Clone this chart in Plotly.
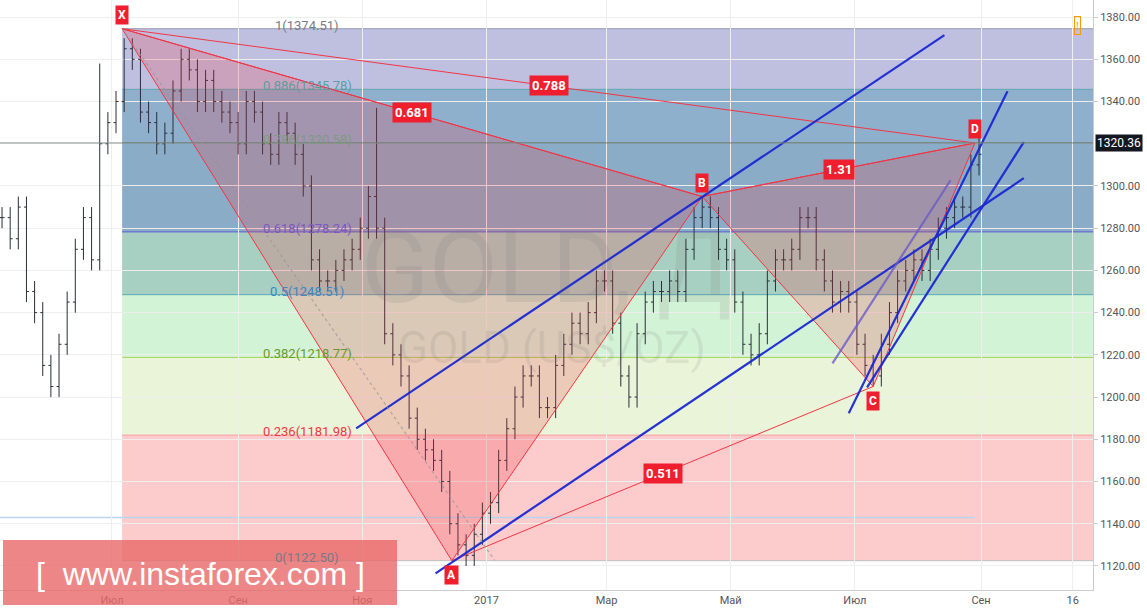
import plotly.graph_objects as go
import pandas as pd

closes = [1285,1275,1290,1250,1240,1215,1205,1225,1245,1270,1285,1265,1320,1330,1340,1365,1360,1335,1330,1320,
          1325,1345,1360,1355,1340,1350,1340,1335,1330,1320,1340,1335,1320,1315,1330,1325,1315,1300,1265,1255,
          1255,1260,1265,1270,1280,1295,1280,1230,1220,1210,1190,1180,1175,1170,1160,1140,1130,1125,1135,1145,
          1150,1170,1185,1200,1210,1210,1195,1195,1215,1225,1235,1230,1240,1255,1255,1235,1210,1200,1230,1245,
          1250,1250,1255,1250,1270,1285,1290,1285,1270,1265,1245,1225,1220,1230,1255,1265,1265,1270,1285,1285,
          1265,1255,1245,1250,1245,1225,1215,1210,1225,1240,1255,1260,1265,1260,1270,1280,1285,1290,1290,1310,1315]
dates = pd.date_range("2016-05-08", periods=len(closes), freq="4D")
opens = [closes[0]] + closes[:-1]
spikes = {46: 1337, 12: 1358, 120: 1325}
highs = [max(o, c) + 5 for o, c in zip(opens, closes)]
lows = [min(o, c) - 5 for o, c in zip(opens, closes)]
for k, v in spikes.items():
    highs[k] = v

fib_ratios = ["1", "0.886", "0.786", "0.618", "0.5", "0.382", "0.236", "0"]
fib_levels = [1374.51, 1345.78, 1320.58, 1278.24, 1248.51, 1218.77, 1181.98, 1122.50]
fib_text_colors = ["#787b86", "#5a9ea0", "#7f9a84", "#7e57c2", "#3d86c6", "#6a9a2a", "#f23645", "#787b86"]
fib_line_colors = ["#9a9bb5", "#5fa7b0", "#6f8f7f", "#5b5fd6", "#5aa7b5", "#a6d65a", "#f7a0a0", "#c0c0c0"]
band_colors = ["#bfc0e0", "#8eb0cd", "#8aacc6", "#a8d0c2", "#d2f3d6", "#eaf4d8", "#fccbcb"]

pts_names = ["X", "A", "B", "C", "D"]
pts_dates = ["2016-07-06", "2016-12-15", "2017-04-17", "2017-07-10", "2017-08-29"]
pts_prices = [1374.51, 1122.50, 1295.0, 1205.0, 1320.36]
ratios = [("X", "B", "0.681"), ("X", "D", "0.788"), ("B", "D", "1.31"), ("A", "C", "0.511")]

trend_lines = [
    (["2016-12-07", "2017-09-22"], [1116.5, 1303.7], "rgba(25,40,210,0.95)"),
    (["2016-10-29", "2017-08-14"], [1185.2, 1371.5], "rgba(25,40,210,0.95)"),
    (["2017-06-28", "2017-09-14"], [1192.3, 1344.9], "rgba(25,40,210,0.95)"),
    (["2017-07-07", "2017-09-22"], [1204.6, 1320.8], "rgba(25,40,210,0.95)"),
    (["2017-06-20", "2017-08-17"], [1216.0, 1302.7], "rgba(110,90,200,0.8)"),
]

x_start, x_end = "2016-05-07", "2017-10-26"
tick_vals = ["2016-07-01", "2016-09-01", "2016-11-01", "2017-01-01", "2017-03-01", "2017-05-01", "2017-07-01", "2017-09-01", "2017-10-16"]
tick_text = ["Июл", "Сен", "Ноя", "2017", "Мар", "Май", "Июл", "Сен", "16"]
y_ticks = [1120, 1140, 1160, 1180, 1200, 1220, 1240, 1260, 1280, 1300, 1340, 1360, 1380]
last_price = 1320.36

P = {n: (pd.Timestamp(d), p) for n, d, p in zip(pts_names, pts_dates, pts_prices)}

fig = go.Figure()
shapes = []
for i in range(len(band_colors)):
    shapes.append(dict(type="rect", xref="x", yref="y", x0=pts_dates[0], x1=x_end,
                       y0=fib_levels[i + 1], y1=fib_levels[i], fillcolor=band_colors[i],
                       line_width=0, layer="below"))
for lv, lc in zip(fib_levels, fib_line_colors):
    shapes.append(dict(type="line", xref="x", yref="y", x0=pts_dates[0], x1=x_end, y0=lv, y1=lv,
                       line=dict(color=lc, width=1), layer="below"))
shapes.append(dict(type="line", xref="x", yref="y", x0=x_start, x1=pts_dates[4], y0=1143, y1=1143,
                   line=dict(color="#b8d4ee", width=1.5), layer="below"))
shapes.append(dict(type="line", xref="paper", yref="y", x0=0, x1=1, y0=last_price, y1=last_price,
                   line=dict(color="#7d8a8a", width=1)))
shapes.append(dict(type="rect", xref="paper", yref="paper", x0=3/1093, x1=397/1093,
                   y0=1 - 605/590, y1=1 - 540/590, fillcolor="rgba(232,105,105,0.8)", line_width=0))
shapes.append(dict(type="line", xref="x", yref="y", x0=pts_dates[0], x1="2017-01-05", y0=1374.51, y1=1122.7,
                   line=dict(color="rgba(150,150,150,0.7)", width=1.2, dash="dot")))

fig.add_trace(go.Ohlc(x=dates, open=opens, high=highs, low=lows, close=closes,
                      increasing_line_color="#2a2e39", decreasing_line_color="#2a2e39",
                      line_width=1, showlegend=False, hoverinfo="skip"))

for tri in [("X", "A", "B"), ("B", "C", "D")]:
    fig.add_trace(go.Scatter(x=[P[n][0] for n in tri] + [P[tri[0]][0]], y=[P[n][1] for n in tri] + [P[tri[0]][1]],
                             fill="toself", fillcolor="rgba(242,54,69,0.22)", mode="lines",
                             line=dict(color="#f23645", width=1), showlegend=False, hoverinfo="skip"))
for a, b, _ in ratios:
    fig.add_trace(go.Scatter(x=[P[a][0], P[b][0]], y=[P[a][1], P[b][1]], mode="lines",
                             line=dict(color="#f23645", width=1), showlegend=False, hoverinfo="skip"))
for xs, ys, c in trend_lines:
    fig.add_trace(go.Scatter(x=xs, y=ys, mode="lines", line=dict(color=c, width=2.2),
                             showlegend=False, hoverinfo="skip"))

ann = []
for r, lv, tc in zip(fib_ratios, fib_levels, fib_text_colors):
    ann.append(dict(x="2016-10-05", y=lv, text=f"{r}({lv:.2f})", showarrow=False, yanchor="bottom",
                    xanchor="center", yshift=-6, font=dict(size=13, color=tc, family="Roboto")))
for n in pts_names:
    d, p = P[n]
    up = n in ("X", "B", "D")
    ann.append(dict(x=d, y=p, text=f"<b>{n}</b>", showarrow=False, yshift=14 if up else -14,
                    bgcolor="#f01f2f", borderpad=2, font=dict(size=12, color="white", family="Roboto")))
for a, b, t in ratios:
    ann.append(dict(x=P[a][0] + (P[b][0] - P[a][0]) / 2, y=(P[a][1] + P[b][1]) / 2, text=f"<b>{t}</b>",
                    showarrow=False, bgcolor="#f01f2f", borderpad=2,
                    font=dict(size=13, color="white", family="Roboto")))
ann.append(dict(xref="paper", yref="y", x=1, y=last_price, xanchor="left", text=f"{last_price:.2f}", showarrow=False,
                bgcolor="#131722", font=dict(size=12, color="white", family="Roboto"), xshift=2))
ann.append(dict(xref="paper", yref="paper", x=0.5, y=1 - 268/590, text="GOLD, Д", showarrow=False,
                font=dict(size=100, color="rgba(110,110,110,0.13)", family="Roboto")))
ann.append(dict(xref="paper", yref="paper", x=0.505, y=1 - 348/590, text="GOLD (US$/OZ)", showarrow=False,
                font=dict(size=44, color="rgba(110,110,110,0.13)", family="Roboto")))
ann.append(dict(xref="paper", yref="paper", x=200/1093, y=1 - 574/590, xanchor="center", yanchor="middle",
                text="[&nbsp;&nbsp;www.instaforex.com&nbsp;]",
                showarrow=False, font=dict(size=32, color="white", family="Liberation Sans")))
ann.append(dict(xref="paper", yref="paper", x=1081/1093, y=1 - 16/590, text="!", showarrow=False,
                font=dict(size=11, color="#ff9800"), bordercolor="#ff9800", borderwidth=1, borderpad=1))

fig.update_layout(
    width=1147, height=609, margin=dict(l=0, r=54, t=0, b=19),
    plot_bgcolor="white", paper_bgcolor="white", shapes=shapes, annotations=ann,
    xaxis=dict(range=[x_start, x_end], tickvals=tick_vals, ticktext=tick_text, showgrid=True,
               gridcolor="#eeeeee", rangeslider_visible=False, tickfont=dict(size=11, color="#555", family="Roboto"),
               ticks="", showline=True, linecolor="#cccccc", zeroline=False),
    yaxis=dict(range=[1108.6, 1388.1], side="right", tickvals=y_ticks, ticktext=[f"{v:.2f}" for v in y_ticks],
               showgrid=True, gridcolor="#eeeeee", tickfont=dict(size=11, color="#555", family="Roboto"),
               showline=True, linecolor="#cccccc", zeroline=False, ticks="outside", ticklen=4, tickcolor="#ccc"),
)
fig.write_html("out.html", config={"displayModeBar": False},
               post_script="document.body.style.margin='0';document.body.style.overflow='hidden';")
